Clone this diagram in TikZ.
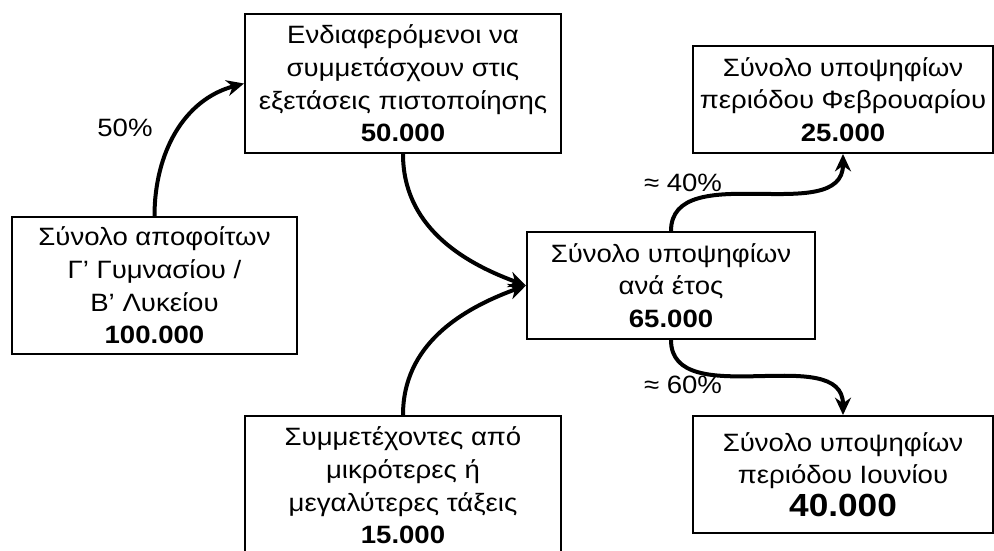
\documentclass[tikz,border=0pt]{standalone}
\usepackage{fontspec}
\setmainfont{Liberation Sans}[FakeStretch=1.1]
\usetikzlibrary{arrows.meta}

\begin{document}
\begin{tikzpicture}[x=0.75pt,y=-0.75pt,
  box/.style={draw,line width=1.5pt,align=center,inner sep=0pt,
    font=\fontsize{18.8}{24.5}\selectfont},
  flow/.style={line width=3pt,-{Stealth[length=13pt,width=12pt]}},
  pct/.style={font=\fontsize{18.8}{22}\selectfont}]
\useasboundingbox (0,0) rectangle (994,550);

    \node[box,minimum width=213.75pt,minimum height=102.75pt] (grads) at (154.5,285.5)
      {Σύνολο αποφοίτων\\Γ’ Γυμνασίου /\\Β’ Λυκείου\\\textbf{100.000}};
    \node[box,minimum width=237pt,minimum height=104.25pt] (interested) at (403,83.5)
      {Ενδιαφερόμενοι να\\συμμετάσχουν στις\\εξετάσεις πιστοποίησης\\\textbf{50.000}};
    \node[box,minimum width=237pt,minimum height=104.25pt] (others) at (403,485.5)
      {Συμμετέχοντες από\\μικρότερες ή\\μεγαλύτερες τάξεις\\\textbf{15.000}};
    \node[box,minimum width=216pt,minimum height=80.25pt] (peryear) at (671,285.5)
      {Σύνολο υποψηφίων\\ανά έτος\\\textbf{65.000}};
    \node[box,minimum width=225pt,minimum height=80.25pt] (feb) at (843,99.5)
      {Σύνολο υποψηφίων\\περιόδου Φεβρουαρίου\\\textbf{25.000}};
    \node[box,minimum width=225pt,minimum height=87.75pt] (june) at (843,474.5)
      {Σύνολο υποψηφίων\\περιόδου Ιουνίου\\{\fontsize{24}{28}\selectfont\bfseries 40.000}};

    \node[pct] (p50) at (125,128) {50\%};
    \node[pct] (p40) at (683,183) {≈ 40\%};
    \node[pct] (p60) at (683,385) {≈ 60\%};

    % draw the arrows
    \draw[flow] (grads.north) to[out=90,in=195] (interested.west);
    \draw[flow] (interested.south) to[out=-90,in=160] (peryear.west);
    \draw[flow] (others.north) to[out=90,in=200] (peryear.west);
    \draw[flow] (peryear.north) to[out=90,in=-90] (feb.south);
    \draw[flow] (peryear.south) to[out=-90,in=90] (june.north);

\end{tikzpicture}
\end{document}
